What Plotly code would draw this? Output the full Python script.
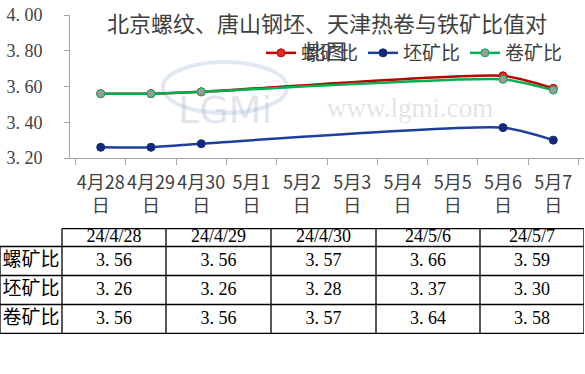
import plotly.graph_objects as go

categories = ["4月28日", "4月29日", "4月30日", "5月1日", "5月2日", "5月3日", "5月4日", "5月5日", "5月6日", "5月7日"]
tick_labels = ["4月28<br>日", "4月29<br>日", "4月30<br>日", "5月1<br>日", "5月2<br>日", "5月3<br>日", "5月4<br>日", "5月5<br>日", "5月6<br>日", "5月7<br>日"]
luo = [3.56, 3.56, 3.57, None, None, None, None, None, 3.66, 3.59]
pi = [3.26, 3.26, 3.28, None, None, None, None, None, 3.37, 3.30]
juan = [3.56, 3.56, 3.57, None, None, None, None, None, 3.64, 3.58]
table_dates = ["24/4/28", "24/4/29", "24/4/30", "24/5/6", "24/5/7"]
row_names = ["螺矿比", "坯矿比", "卷矿比"]
y_ticks = [3.20, 3.40, 3.60, 3.80, 4.00]

W, H = 585, 374
serif = "Liberation Serif, DejaVu Serif, serif"
cjk = "Noto Sans CJK SC"
txt = "#404040"


def fmt(v):
    return f"{v:.2f}".replace(".", ". ")


fig = go.Figure()
series = [
    ("螺矿比", luo, "#c00000", "#e02a2a", "#c00000"),
    ("坯矿比", pi, "#1f3f9f", "#10297a", "#10297a"),
    ("卷矿比", juan, "#00b050", "#9a9a9a", "#00b050"),
]
for name, vals, lc, mf, ml in series:
    fig.add_trace(go.Scatter(
        x=categories, y=vals, name=name, mode="lines+markers",
        connectgaps=True,
        line=dict(color=lc, width=2.5, shape="spline", smoothing=0.6),
        marker=dict(size=8, color=mf, line=dict(color=ml, width=1)),
        xaxis="x", yaxis="y",
    ))

# ---- table drawn on its own pixel-like axes (x2 / y2) ----
col_widths = [62, 104, 105, 105, 104, 104]
row_heights = [18, 29, 29, 29]
x_edges = [0]
for w in col_widths:
    x_edges.append(x_edges[-1] + w)
y_edges = [0]
for h in row_heights:
    y_edges.append(y_edges[-1] + h)
x_centers = [(x_edges[i] + x_edges[i + 1]) / 2 for i in range(len(col_widths))]
y_centers = [(y_edges[i] + y_edges[i + 1]) / 2 for i in range(len(row_heights))]

series_vals = [[v for v in s if v is not None] for s in (luo, pi, juan)]

fig.add_trace(go.Scatter(
    x=x_centers[1:], y=[y_centers[0]] * len(table_dates), text=table_dates,
    mode="text", textposition="middle center", showlegend=False, hoverinfo="skip",
    textfont=dict(family=serif, size=18, color="black"), xaxis="x2", yaxis="y2"))
fig.add_trace(go.Scatter(
    x=[x_centers[0]] * len(row_names), y=y_centers[1:], text=row_names,
    mode="text", textposition="middle center", showlegend=False, hoverinfo="skip",
    textfont=dict(family=cjk, size=19, color="black"), xaxis="x2", yaxis="y2"))
cx, cy, ct = [], [], []
for r, vals in enumerate(series_vals):
    for c, v in enumerate(vals):
        cx.append(x_centers[c + 1])
        cy.append(y_centers[r + 1])
        ct.append(fmt(v))
fig.add_trace(go.Scatter(
    x=cx, y=cy, text=ct, mode="text", textposition="middle center",
    showlegend=False, hoverinfo="skip",
    textfont=dict(family=serif, size=18, color="black"), xaxis="x2", yaxis="y2"))

shapes = []
line_style = dict(color="black", width=1.3)
for i, y in enumerate(y_edges):
    x0 = x_edges[1] if i == 0 else x_edges[0]
    shapes.append(dict(type="line", xref="x2", yref="y2", x0=x0, x1=x_edges[-1], y0=y, y1=y, line=line_style))
for j, x in enumerate(x_edges):
    y0 = y_edges[1] if j == 0 else y_edges[0]
    shapes.append(dict(type="line", xref="x2", yref="y2", x0=x, x1=x, y0=y0, y1=y_edges[-1], line=line_style))
# watermark oval
shapes.append(dict(type="circle", xref="paper", yref="paper",
                   x0=163 / W, x1=287 / W, y0=1 - 113 / H, y1=1 - 62 / H,
                   line=dict(color="rgba(120,150,200,0.22)", width=4), layer="below"))

fig.update_layout(
    width=W, height=H,
    margin=dict(l=0, r=0, t=0, b=0, autoexpand=False),
    paper_bgcolor="white", plot_bgcolor="white",
    showlegend=True,
    shapes=shapes,
    legend=dict(orientation="h", x=261 / W, y=1 - 34 / H, xanchor="left", yanchor="top",
                font=dict(family=cjk, size=19, color=txt),
                bgcolor="rgba(0,0,0,0)", itemwidth=30, tracegroupgap=0),
    xaxis=dict(domain=[70 / W, 584 / W], type="category",
               tickmode="array", tickvals=categories, ticktext=tick_labels,
               tickangle=0,
               showline=True, linecolor="#a6a6a6", linewidth=1,
               ticks="outside", tickson="boundaries", ticklen=6, tickcolor="#a6a6a6",
               ticklabelstandoff=8,
               tickfont=dict(family=cjk, size=18, color=txt),
               showgrid=False, zeroline=False, anchor="y"),
    yaxis=dict(domain=[1 - 158 / H, 1 - 15 / H], range=[3.20, 4.00],
               tickmode="array", tickvals=y_ticks,
               ticktext=[fmt(v) for v in y_ticks],
               showline=True, linecolor="#a6a6a6", linewidth=1,
               ticks="outside", ticklen=5, tickcolor="#a6a6a6",
               ticklabelstandoff=18,
               tickfont=dict(family=serif, size=18, color=txt),
               showgrid=False, zeroline=False, anchor="x"),
    xaxis2=dict(domain=[0, x_edges[-1] / W], range=[0, x_edges[-1]], visible=False,
                anchor="y2", fixedrange=True),
    yaxis2=dict(domain=[1 - 334 / H, 1 - 228 / H], range=[y_edges[-1] + 0.5, -0.5], visible=False,
                anchor="x2", fixedrange=True),
)

fig.add_annotation(text="北京螺纹、唐山钢坯、天津热卷与铁矿比值对", xref="paper", yref="paper",
                   x=105 / W, y=1 - 22 / H, xanchor="left", yanchor="middle", showarrow=False,
                   font=dict(family=cjk, size=22, color=txt))
fig.add_annotation(text="比图", xref="paper", yref="paper",
                   x=303 / W, y=1 - 50 / H, xanchor="left", yanchor="middle", showarrow=False,
                   font=dict(family=cjk, size=21, color=txt))
fig.add_annotation(text="LGMi", xref="paper", yref="paper", x=225 / W, y=1 - 86 / H,
                   showarrow=False, font=dict(family="DejaVu Sans", size=38, color="rgba(150,165,190,0.3)"))
fig.add_annotation(text="www.lgmi.com", xref="paper", yref="paper", x=325 / W, y=1 - 91 / H,
                   xanchor="left", showarrow=False,
                   font=dict(family=serif, size=27, color="rgba(160,160,160,0.3)"))

fig.write_html("out.html", config={"displayModeBar": False},
               post_script="document.body.style.margin='0px';")
